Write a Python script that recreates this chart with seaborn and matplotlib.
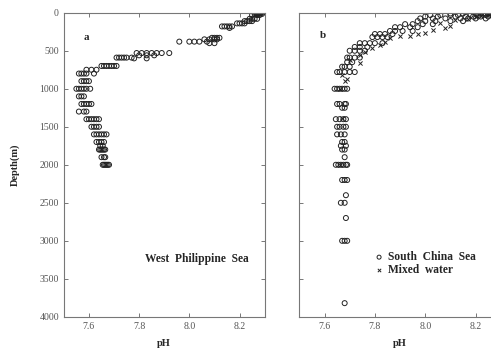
import pandas as pd
import seaborn as sns
from matplotlib import pyplot as plt

# panel a: West Philippine Sea (depth m, list of pH at that depth)
a_depth = [0, 15, 30, 80, 110, 140, 180, 200, 330, 350, 380, 400, 530, 560, 590,
           600, 700, 750, 800, 900, 1000, 1100, 1200, 1300, 1400, 1500, 1600,
           1700, 1750, 1800, 1900, 2000]
a_ph = [
    [8.26, 8.265, 8.27, 8.275, 8.28, 8.285, 8.29],
    [8.26, 8.27, 8.28, 8.29],
    [8.25, 8.27, 8.28],
    [8.24, 8.25, 8.26, 8.27],
    [8.22, 8.23, 8.24, 8.25],
    [8.19, 8.20, 8.21, 8.22],
    [8.13, 8.14, 8.15, 8.16, 8.17],
    [8.16],
    [8.09, 8.10, 8.11, 8.12],
    [8.06, 8.08, 8.10, 8.11],
    [7.96, 8.00, 8.02, 8.04, 8.07],
    [8.08, 8.10],
    [7.79, 7.81, 7.83, 7.85, 7.87, 7.89, 7.92],
    [7.80, 7.83, 7.86],
    [7.71, 7.72, 7.73, 7.74, 7.75, 7.77],
    [7.78, 7.83],
    [7.65, 7.66, 7.67, 7.68, 7.69, 7.70, 7.71],
    [7.59, 7.61, 7.63],
    [7.56, 7.57, 7.58, 7.59, 7.62],
    [7.57, 7.58, 7.59, 7.60],
    [7.55, 7.56, 7.57, 7.58, 7.59, 7.605],
    [7.56, 7.57, 7.58],
    [7.57, 7.58, 7.59, 7.60, 7.61],
    [7.56, 7.58, 7.59],
    [7.59, 7.60, 7.61, 7.62, 7.63, 7.64],
    [7.61, 7.62, 7.63, 7.64],
    [7.62, 7.63, 7.64, 7.65, 7.66, 7.67],
    [7.63, 7.64, 7.65, 7.66],
    [7.645, 7.655],
    [7.64, 7.645, 7.65, 7.655, 7.66, 7.665],
    [7.65, 7.66, 7.665],
    [7.655, 7.66, 7.665, 7.67, 7.675, 7.68],
]

# panel b: South China Sea
b_depth = [10, 30, 50, 75, 110, 150, 190, 240, 280, 320, 400, 450, 500, 590, 650,
           710, 780, 1000, 1200, 1250, 1400, 1500, 1600, 1700, 1750, 1800, 1900,
           2000, 2200, 2400, 2500, 2700, 3000, 3820]
b_ph = [
    [8.10, 8.15, 8.20, 8.22, 8.23, 8.24, 8.25, 8.26],
    [8.02, 8.06, 8.10, 8.13, 8.18, 8.21, 8.24, 8.26],
    [8.00, 8.05, 8.12, 8.16, 8.19, 8.22, 8.25],
    [7.98, 8.03, 8.08, 8.14, 8.17, 8.20, 8.24],
    [7.97, 8.00, 8.04, 8.10, 8.15],
    [7.92, 7.95, 7.99, 8.03],
    [7.88, 7.90, 7.94, 7.97],
    [7.86, 7.88, 7.91, 7.95],
    [7.80, 7.82, 7.84, 7.87],
    [7.79, 7.81, 7.83, 7.85],
    [7.74, 7.76, 7.78, 7.80, 7.83],
    [7.72, 7.74, 7.77],
    [7.70, 7.72, 7.74, 7.76],
    [7.69, 7.70, 7.72, 7.74],
    [7.69, 7.71],
    [7.67, 7.68, 7.70],
    [7.65, 7.66, 7.68, 7.70, 7.72],
    [7.64, 7.65, 7.66, 7.67, 7.68, 7.69],
    [7.65, 7.66, 7.68, 7.685],
    [7.67, 7.68],
    [7.645, 7.66, 7.675, 7.685],
    [7.65, 7.66, 7.675, 7.685],
    [7.65, 7.665, 7.68],
    [7.67, 7.68],
    [7.665, 7.685],
    [7.67, 7.68],
    [7.68],
    [7.645, 7.655, 7.665, 7.675, 7.685, 7.69],
    [7.67, 7.68, 7.69],
    [7.685],
    [7.665, 7.68],
    [7.685],
    [7.67, 7.68, 7.69],
    [7.68],
]

# panel b: mixed water
mix_ph = [8.25, 8.22, 8.20, 8.17, 8.12, 8.06, 8.10, 8.08, 8.03, 8.00, 7.97, 7.94,
          7.90, 7.86, 7.84, 7.82, 7.79, 7.76, 7.74, 7.74, 7.70, 7.69, 7.68, 7.67,
          7.66, 7.67, 7.66]
mix_depth = [20, 40, 60, 80, 100, 130, 170, 200, 230, 260, 280, 310, 300, 330, 380,
             430, 470, 520, 560, 660, 620, 870, 900, 820, 1000, 1390, 2000]

x_ticks = [7.6, 7.8, 8.0, 8.2]
y_ticks = [0, 500, 1000, 1500, 2000, 2500, 3000, 3500, 4000]


def flatten(depths, phs):
    rows = []
    for d, vals in zip(depths, phs):
        for v in vals:
            rows.append((v, d))
    return pd.DataFrame(rows, columns=["pH", "depth"])


df_a = flatten(a_depth, a_ph)
df_b = flatten(b_depth, b_ph)
df_mix = pd.DataFrame({"pH": mix_ph, "depth": mix_depth})

sns.set_style("ticks")
plt.rcParams["font.family"] = ["Liberation Serif", "DejaVu Serif"]

fig = plt.figure(figsize=(4.91, 3.54), dpi=100)
ax_a = fig.add_axes([0.130, 0.105, 0.409, 0.859])
ax_b = fig.add_axes([0.6096, 0.105, 0.4104, 0.859])

circ = dict(marker="o", facecolor="none", edgecolor="#222222", s=13, linewidth=0.7)

sns.scatterplot(data=df_a, x="pH", y="depth", ax=ax_a, **circ)
sns.scatterplot(data=df_b, x="pH", y="depth", ax=ax_b, label="South  China  Sea", **circ)
sns.scatterplot(data=df_mix, x="pH", y="depth", ax=ax_b, marker="x", color="#222222",
                s=9, linewidth=0.7, label="Mixed  water")

for ax in (ax_a, ax_b):
    ax.set_xlim(7.5, 8.3)
    ax.set_ylim(4000, 0)
    ax.set_xticks(x_ticks)
    ax.set_xticklabels([f"{t:.1f}" for t in x_ticks])
    ax.set_yticks(y_ticks)
    ax.tick_params(direction="in", top=True, right=True, length=3, width=0.7,
                   colors="#777777", labelcolor="#555555", labelsize=7)
    for s in ax.spines.values():
        s.set_color("#777777")
        s.set_linewidth(0.8)
    ax.set_xlabel("pH", fontsize=7.5, fontweight="bold", labelpad=6)

ax_a.set_ylabel("Depth(m)", fontsize=7.5, fontweight="bold", labelpad=14)
ax_b.set_ylabel("")
ax_b.set_yticklabels([])

ax_a.text(7.58, 330, "a", fontsize=8, fontweight="bold", va="center")
ax_b.text(7.58, 300, "b", fontsize=8, fontweight="bold", va="center")
ax_a.text(8.03, 3240, "West  Philippine  Sea", fontsize=8.3, fontweight="bold",
          ha="center", va="center")

leg = ax_b.legend(loc="upper left", bbox_to_anchor=(0.31, 0.25), frameon=False,
                  prop={"weight": "bold", "size": 8.3}, handletextpad=0.2,
                  handlelength=1.2, labelspacing=0.05, markerscale=0.8)

fig.savefig("out.png", dpi=100)
